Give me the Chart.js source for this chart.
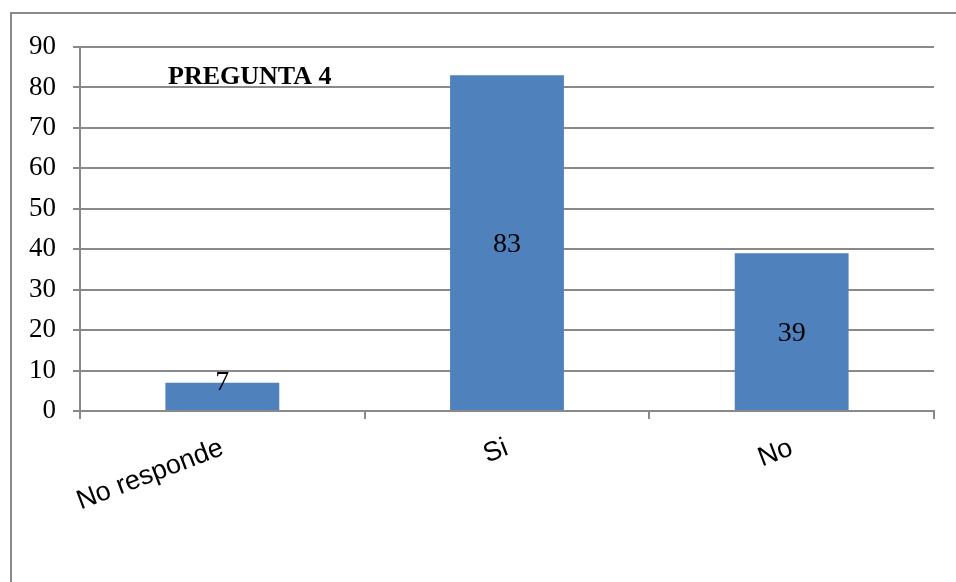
<!DOCTYPE html>
<html>
<head>
<meta charset="utf-8">
<script src="https://cdn.jsdelivr.net/npm/chart.js@4.4.1/dist/chart.umd.min.js"></script>
<style>
  html, body { margin: 0; padding: 0; background: #fff; }
</style>
</head>
<body>
<canvas id="myChart" width="956" height="582"></canvas>
<script>
// data
const categories = ["No responde", "Si", "No"];
const values = [7, 83, 39];
const yMin = 0;
const yMax = 90;
const yStep = 10;
const chartTitle = "PREGUNTA 4";

const gray = "#898989";

// frame round the chart + white background
const frame = {
  id: "frame",
  beforeDraw(chart) {
    const ctx = chart.ctx;
    ctx.save();
    ctx.fillStyle = "#fff";
    ctx.fillRect(0, 0, chart.width, chart.height);
    ctx.strokeStyle = gray;
    ctx.lineWidth = 2;
    ctx.strokeRect(11, 13, chart.width + 20, chart.height + 20);
    ctx.restore();
  },
};

// title inside the plot
const titleInside = {
  id: "titleInside",
  afterDraw(chart) {
    const ctx = chart.ctx;
    ctx.save();
    ctx.font = "bold 26px 'Liberation Serif'";
    ctx.fillStyle = "#000";
    ctx.textAlign = "left";
    ctx.textBaseline = "alphabetic";
    ctx.fillText(chartTitle, chart.chartArea.left + 88, 84);
    ctx.restore();
  },
};

// value labels on the bars
const barLabels = {
  id: "barLabels",
  afterDatasetsDraw(chart) {
    const ctx = chart.ctx;
    const meta = chart.getDatasetMeta(0);
    ctx.save();
    ctx.font = "28px 'Liberation Serif'";
    ctx.fillStyle = "#000";
    ctx.textAlign = "center";
    ctx.textBaseline = "middle";
    meta.data.forEach(function (bar, i) {
      let y = (bar.y + bar.base) / 2 + 2;
      if (bar.base - bar.y < 40) y = bar.y;
      ctx.fillText(values[i], bar.x, y);
    });
    ctx.restore();
  },
};

const ctx = document.getElementById("myChart");
const myChart = new Chart(ctx, {
  type: "bar",
  data: {
    labels: categories,
    datasets: [
      {
        data: values,
        backgroundColor: "#4F81BD",
        barPercentage: 0.4,
        categoryPercentage: 1,
      },
    ],
  },
  options: {
    responsive: false,
    animation: false,
    layout: { padding: { top: 47, right: 22, left: 0, bottom: 0 } },
    plugins: {
      legend: { display: false },
      tooltip: { enabled: false },
      title: { display: false },
    },
    scales: {
      x: {
        offset: true,
        grid: {
          display: true,
          offset: true,
          drawOnChartArea: false,
          drawTicks: true,
          tickLength: 8,
          color: gray,
          lineWidth: 2,
        },
        border: { display: true, color: gray, width: 2 },
        ticks: {
          color: "#000",
          font: { family: "'Liberation Sans'", size: 27 },
          minRotation: 21,
          maxRotation: 21,
          padding: 13,
        },
        afterFit(scale) {
          scale.height = 171;
          scale.paddingLeft = 0;
          scale.paddingRight = 0;
        },
      },
      y: {
        min: yMin,
        max: yMax,
        ticks: {
          stepSize: yStep,
          color: "#000",
          font: { family: "'Liberation Serif'", size: 27 },
          padding: 17,
        },
        grid: { color: gray, lineWidth: 2, tickLength: 7 },
        border: { display: true, color: gray, width: 2 },
        afterFit(scale) {
          scale.width = 80;
          scale.paddingTop = 0;
          scale.paddingBottom = 0;
        },
      },
    },
  },
  plugins: [frame, titleInside, barLabels],
});
</script>
</body>
</html>
